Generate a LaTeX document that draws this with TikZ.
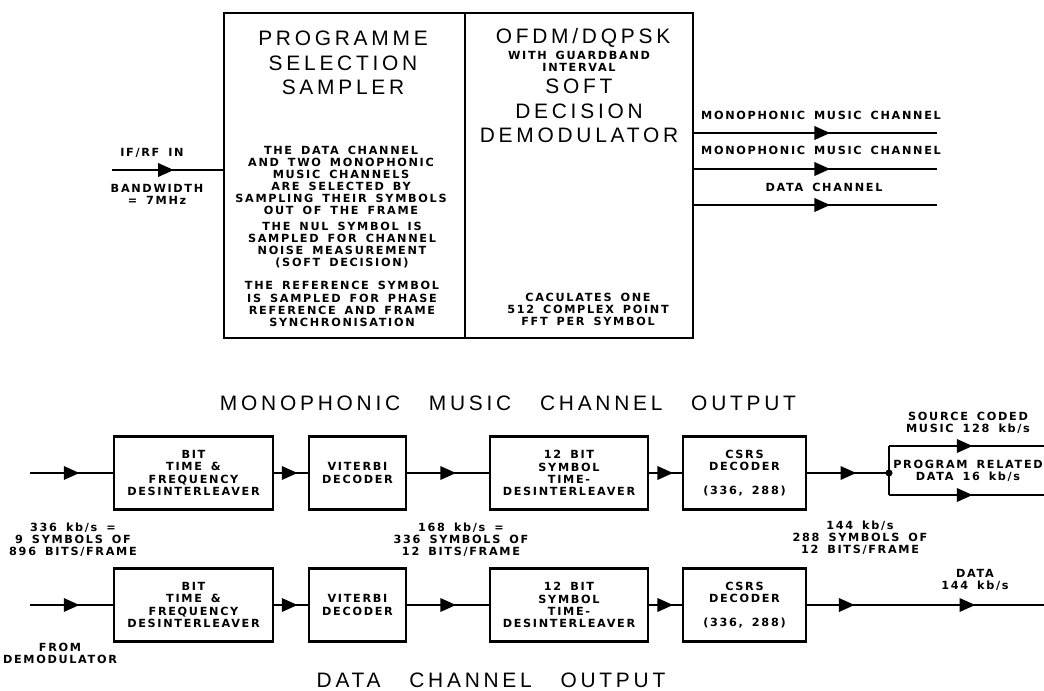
\documentclass[tikz,border=0pt]{standalone}
\usepackage{fontspec}
\usetikzlibrary{arrows.meta,decorations.markings,positioning}
\newfontfamily\plotbig{Liberation Sans}[LetterSpace=18,WordSpace=3]
\newfontfamily\plotsmall{DejaVu Sans}[LetterSpace=15,WordSpace=1.6]
\newcommand{\smalltxt}{\plotsmall\bfseries\fontsize{6.4}{6.9}\selectfont}
\newcommand{\bigtxt}{\plotbig\fontsize{11.9}{14}\selectfont}
\tikzset{%
	blk/.style    = {draw, line width=1.6pt, minimum height=1.45cm, align=center, font=\smalltxt},
	unit/.style   = {draw, line width=1.6pt, minimum height=6.5cm},
	flow/.style   = {line width=1.6pt},
	headat/.style = {postaction={decorate,decoration={markings,mark=at position #1 with {\arrow{Triangle[length=9pt,width=7.5pt]}}}}},
	lbl/.style    = {align=center, font=\smalltxt, inner sep=0pt},
	big/.style    = {align=center, font=\bigtxt, inner sep=0pt},
}

\begin{document}
\begin{tikzpicture}[x=0.02cm,y=-0.02cm]
	\useasboundingbox (0,0) rectangle (1044,690);
	% receiver front end
	\node[unit,minimum width=4.82cm] (sampler) at (344.5,175.5) {};
	\node[unit,minimum width=4.56cm] (demod) at (579,175.5) {};
	\node[big] (pss) at (343,63) {PROGRAMME\\SELECTION\\SAMPLER};
	\node[lbl] (pss1) at (341,180.5) {THE DATA CHANNEL\\AND TWO MONOPHONIC\\MUSIC CHANNELS\\ARE SELECTED BY\\SAMPLING THEIR SYMBOLS\\OUT OF THE FRAME};
	\node[lbl] (pss2) at (342,245) {THE NUL SYMBOL IS\\SAMPLED FOR CHANNEL\\NOISE MEASUREMENT\\(SOFT DECISION)};
	\node[lbl] (pss3) at (342,304) {THE REFERENCE SYMBOL\\IS SAMPLED FOR PHASE\\REFERENCE AND FRAME\\SYNCHRONISATION};
	\node[big] (ofdm) at (583,38) {OFDM/DQPSK};
	\node[lbl] (guard) at (579,61) {WITH GUARDBAND\\INTERVAL};
	\node[big] (sdd) at (579,111) {SOFT\\DECISION\\DEMODULATOR};
	\node[lbl] (fft) at (588,309.5) {CACULATES ONE\\512 COMPLEX POINT\\FFT PER SYMBOL};
	\coordinate (rfin) at (112,170);
	\draw[flow,headat=0.56] (rfin) -- (rfin -| sampler.west);
	\node[lbl] (ifrf) at (152,153) {IF/RF IN};
	\node[lbl] (bw) at (157,194.5) {BANDWIDTH\\= 7MHz};
	\coordinate (mus1) at (937,133);
	\coordinate (mus2) at (937,169);
	\coordinate (dat) at (937,205);
	\draw[flow,headat=0.56] (mus1 -| demod.east) -- (mus1);
	\draw[flow,headat=0.56] (mus2 -| demod.east) -- (mus2);
	\draw[flow,headat=0.56] (dat -| demod.east) -- (dat);
	\node[lbl] (mus1lbl) at (821,115) {MONOPHONIC MUSIC CHANNEL};
	\node[lbl] (mus2lbl) at (821,150) {MONOPHONIC MUSIC CHANNEL};
	\node[lbl] (datlbl) at (824,187) {DATA CHANNEL};

	% monophonic music channel output
	\node[big] (mtitle) at (508,403) {MONOPHONIC MUSIC CHANNEL OUTPUT};
	\node[blk,minimum width=3.18cm] (tf1) at (193.5,473) {BIT\\TIME \&\\FREQUENCY\\DESINTERLEAVER};
	\node[blk,minimum width=1.94cm] (vit1) at (357.5,473) {VITERBI\\DECODER};
	\node[blk,minimum width=3.16cm] (sym1) at (569,473) {12 BIT\\SYMBOL\\TIME-\\DESINTERLEAVER};
	\node[blk,minimum width=2.46cm] (csrs1) at (744.5,473) {CSRS\\DECODER\\[6.9pt](336, 288)};
	\coordinate (in1) at (30,473);
	\coordinate (split) at (889,473);
	\coordinate (musout) at (1044,446);
	\coordinate (pdout) at (1044,495);
	\draw[flow,headat=0.6] (in1) -- (tf1);
	\draw[flow,headat=0.7] (tf1) -- (vit1);
	\draw[flow,headat=0.6] (vit1) -- (sym1);
	\draw[flow,headat=0.74] (sym1) -- (csrs1);
	\draw[flow,headat=0.6] (csrs1) -- (split);
	\draw[flow] (split |- musout) -- (split |- pdout);
	\draw[flow,headat=0.54] (split |- musout) -- (musout);
	\draw[flow,headat=0.54] (split |- pdout) -- (pdout);
	\fill (split) circle (2pt);
	\node[lbl] (src) at (968,422.5) {SOURCE CODED\\MUSIC 128 kb/s};
	\node[lbl] (prd) at (968,470.5) {PROGRAM RELATED\\DATA 16 kb/s};

	% rates between the rows
	\node[lbl] (rate1) at (73,540) {336 kb/s =\\9 SYMBOLS OF\\896 BITS/FRAME};
	\node[lbl] (rate2) at (461,540) {168 kb/s =\\336 SYMBOLS OF\\12 BITS/FRAME};
	\node[lbl] (rate3) at (860,538) {144 kb/s\\288 SYMBOLS OF\\12 BITS/FRAME};

	% data channel output
	\node[blk,minimum width=3.18cm] (tf2) at (193.5,605) {BIT\\TIME \&\\FREQUENCY\\DESINTERLEAVER};
	\node[blk,minimum width=1.94cm] (vit2) at (357.5,605) {VITERBI\\DECODER};
	\node[blk,minimum width=3.16cm] (sym2) at (569,605) {12 BIT\\SYMBOL\\TIME-\\DESINTERLEAVER};
	\node[blk,minimum width=2.46cm] (csrs2) at (744.5,605) {CSRS\\DECODER\\[6.9pt](336, 288)};
	\coordinate (in2) at (30,605);
	\coordinate (dataout) at (1044,605);
	\draw[flow,headat=0.6] (in2) -- (tf2);
	\draw[flow,headat=0.7] (tf2) -- (vit2);
	\draw[flow,headat=0.6] (vit2) -- (sym2);
	\draw[flow,headat=0.74] (sym2) -- (csrs2);
	\draw[flow,headat=0.2,headat=0.71] (csrs2) -- (dataout);
	\node[lbl] (dlbl) at (975,580) {DATA\\144 kb/s};
	\node[lbl] (from) at (60,653.5) {FROM\\DEMODULATOR};
	\node[big] (dtitle) at (491,680) {DATA CHANNEL OUTPUT};
\end{tikzpicture}
\end{document}
